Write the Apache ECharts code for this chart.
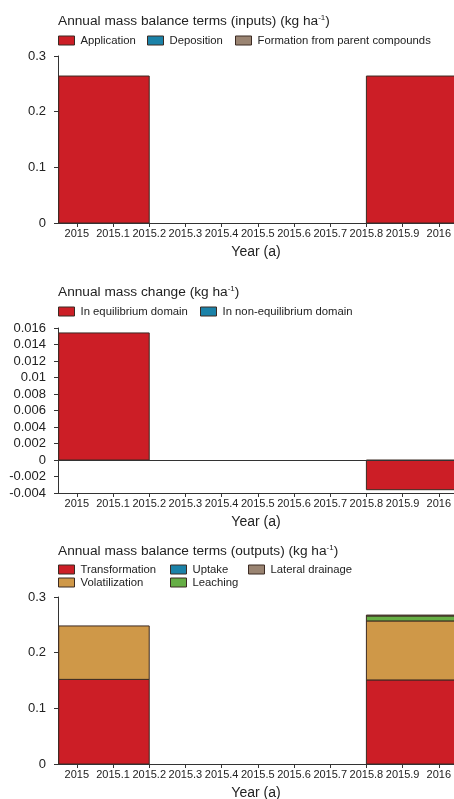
<!DOCTYPE html>
<html>
<head>
<meta charset="utf-8">
<script src="https://cdn.jsdelivr.net/npm/echarts@6/dist/echarts.min.js"></script>
<style>
html,body{margin:0;padding:0;background:#fff;}
#c{width:454px;height:799px;}
</style>
</head>
<body>
<div id="c"></div>
<script>
// ---- data ----
const xTickValues = [2015, 2015.1, 2015.2, 2015.3, 2015.4, 2015.5, 2015.6, 2015.7, 2015.8, 2015.9, 2016];
const periodStart = [2014.95, 2015.8];
const periodEnd = [2015.2, 2016.05];

// inputs (kg/ha)
const application = [0.264, 0.264];
const deposition = [0, 0];
const formation = [0, 0];

// mass change (kg/ha)
const equilibrium = [0.0154, -0.0036];
const nonEquilibrium = [0, 0];

// outputs (kg/ha)
const transformation = [0.152, 0.151];
const volatilization = [0.096, 0.106];
const uptake = [0, 0];
const leaching = [0, 0.009];
const lateralDrainage = [0, 0.0015];

const xLabelFmt = v => (Math.abs(v - Math.round(v)) < 1e-6 ? String(Math.round(v)) : v.toFixed(1));

// ---- styles ----
const COL = {
  red: '#cc1e26', blue: '#1b82a8', brown: '#9a8472', orange: '#cf9848', green: '#66ae45'
};
const BORDER = '#3b2a22';
const TXT = '#222';
const FONT = '"Liberation Sans", Arial, sans-serif';

function renderBar(params, api) {
  const x0 = api.value(0), x1 = api.value(1), b = api.value(2), t = api.value(3);
  if (b === t) return null;
  const p0 = api.coord([x0, b]);
  const p1 = api.coord([x1, t]);
  return {
    type: 'rect',
    shape: { x: p0[0], y: Math.min(p0[1], p1[1]), width: p1[0] - p0[0], height: Math.abs(p1[1] - p0[1]) },
    style: api.style({ stroke: BORDER, lineWidth: 1 })
  };
}

function stacked(list, axisIndex) {
  const base = periodStart.map(() => 0);
  return list.map(([name, vals, color]) => {
    const data = vals.map((v, i) => {
      const b = base[i];
      base[i] = b + v;
      return [periodStart[i], periodEnd[i], b, b + v];
    });
    return {
      type: 'custom', name, xAxisIndex: axisIndex, yAxisIndex: axisIndex,
      renderItem: renderBar, clip: true,
      itemStyle: { color },
      encode: { x: [0, 1], y: [2, 3] },
      data
    };
  });
}

const series = [
  ...stacked([
    ['Application', application, COL.red],
    ['Deposition', deposition, COL.blue],
    ['Formation from parent compounds', formation, COL.brown]
  ], 0),
  ...stacked([
    ['In equilibrium domain', equilibrium, COL.red],
    ['In non-equilibrium domain', nonEquilibrium, COL.blue]
  ], 1),
  ...stacked([
    ['Transformation', transformation, COL.red],
    ['Volatilization', volatilization, COL.orange],
    ['Uptake', uptake, COL.blue],
    ['Leaching', leaching, COL.green],
    ['Lateral drainage', lateralDrainage, COL.brown]
  ], 2)
];
// zero line in mass change chart
series.push({
  type: 'line', xAxisIndex: 1, yAxisIndex: 1, data: [], silent: true,
  markLine: { symbol: ['none', 'none'], silent: true, label: { show: false },
    lineStyle: { color: '#333', width: 1, type: 'solid' }, data: [{ yAxis: 0 }] }
});

const gridDefs = [
  { top: 56, height: 167 },
  { top: 328, height: 165 },
  { top: 597, height: 167 }
];
const yDefs = [
  { min: 0, max: 0.3, interval: 0.1 },
  { min: -0.004, max: 0.016, interval: 0.002 },
  { min: 0, max: 0.3, interval: 0.1 }
];

const grid = gridDefs.map(g => ({ left: 58, right: 0, top: g.top, height: g.height, outerBoundsMode: 'none', containLabel: false }));
const xAxis = gridDefs.map((g, i) => ({
  type: 'value', gridIndex: i, min: 2014.948, max: 2016.042,
  name: 'Year (a)', nameLocation: 'middle', nameGap: 22,
  nameTextStyle: { fontSize: 14, color: TXT, fontFamily: FONT },
  axisLine: { show: true, onZero: false, lineStyle: { color: '#333', width: 1 } },
  axisTick: { show: true, length: 4, customValues: xTickValues, lineStyle: { color: '#333' } },
  axisLabel: { customValues: xTickValues, formatter: xLabelFmt, fontSize: 11, color: TXT, fontFamily: FONT, margin: 5, showMinLabel: true, showMaxLabel: true, hideOverlap: false },
  splitLine: { show: false }
}));
const yAxis = yDefs.map((d, i) => ({
  type: 'value', gridIndex: i, min: d.min, max: d.max, interval: d.interval,
  axisLine: { show: true, lineStyle: { color: '#333', width: 1 } },
  axisTick: { show: true, length: 4, lineStyle: { color: '#333' } },
  axisLabel: { fontSize: 13, color: TXT, fontFamily: FONT, margin: 12 },
  splitLine: { show: false }
}));

const titleRich = { sup: { fontSize: 8, verticalAlign: 'top', color: TXT, fontFamily: FONT, padding: [0, 0, 6, 0] } };
const mkTitle = (text, top) => ({
  text, left: 58, top, padding: 0,
  textStyle: { fontSize: 13.7, fontWeight: 'normal', color: TXT, fontFamily: FONT, rich: titleRich }
});
const title = [
  mkTitle('Annual mass balance terms (inputs) (kg ha{sup|-1})', 14),
  mkTitle('Annual mass change (kg ha{sup|-1})', 285),
  mkTitle('Annual mass balance terms (outputs) (kg ha{sup|-1})', 544)
];

const mkLegend = (name, left, top) => ({
  data: [name], left, top, padding: 0, itemWidth: 16, itemHeight: 9, itemGap: 0,
  icon: 'rect', selectedMode: false,
  itemStyle: { borderColor: BORDER, borderWidth: 1 },
  textStyle: { fontSize: 11.3, color: TXT, fontFamily: FONT, padding: [0, 0, 0, 1] }
});
const legend = [
  mkLegend('Application', 58, 35),
  mkLegend('Deposition', 147, 35),
  mkLegend('Formation from parent compounds', 235, 35),
  mkLegend('In equilibrium domain', 58, 306),
  mkLegend('In non-equilibrium domain', 200, 306),
  mkLegend('Transformation', 58, 564),
  mkLegend('Uptake', 170, 564),
  mkLegend('Lateral drainage', 248, 564),
  mkLegend('Volatilization', 58, 577),
  mkLegend('Leaching', 170, 577)
];

const chart = echarts.init(document.getElementById('c'), null, { renderer: 'canvas' });
chart.setOption({
  backgroundColor: '#fff',
  animation: false,
  textStyle: { fontFamily: FONT },
  title, legend, grid, xAxis, yAxis, series
});
</script>
</body>
</html>
